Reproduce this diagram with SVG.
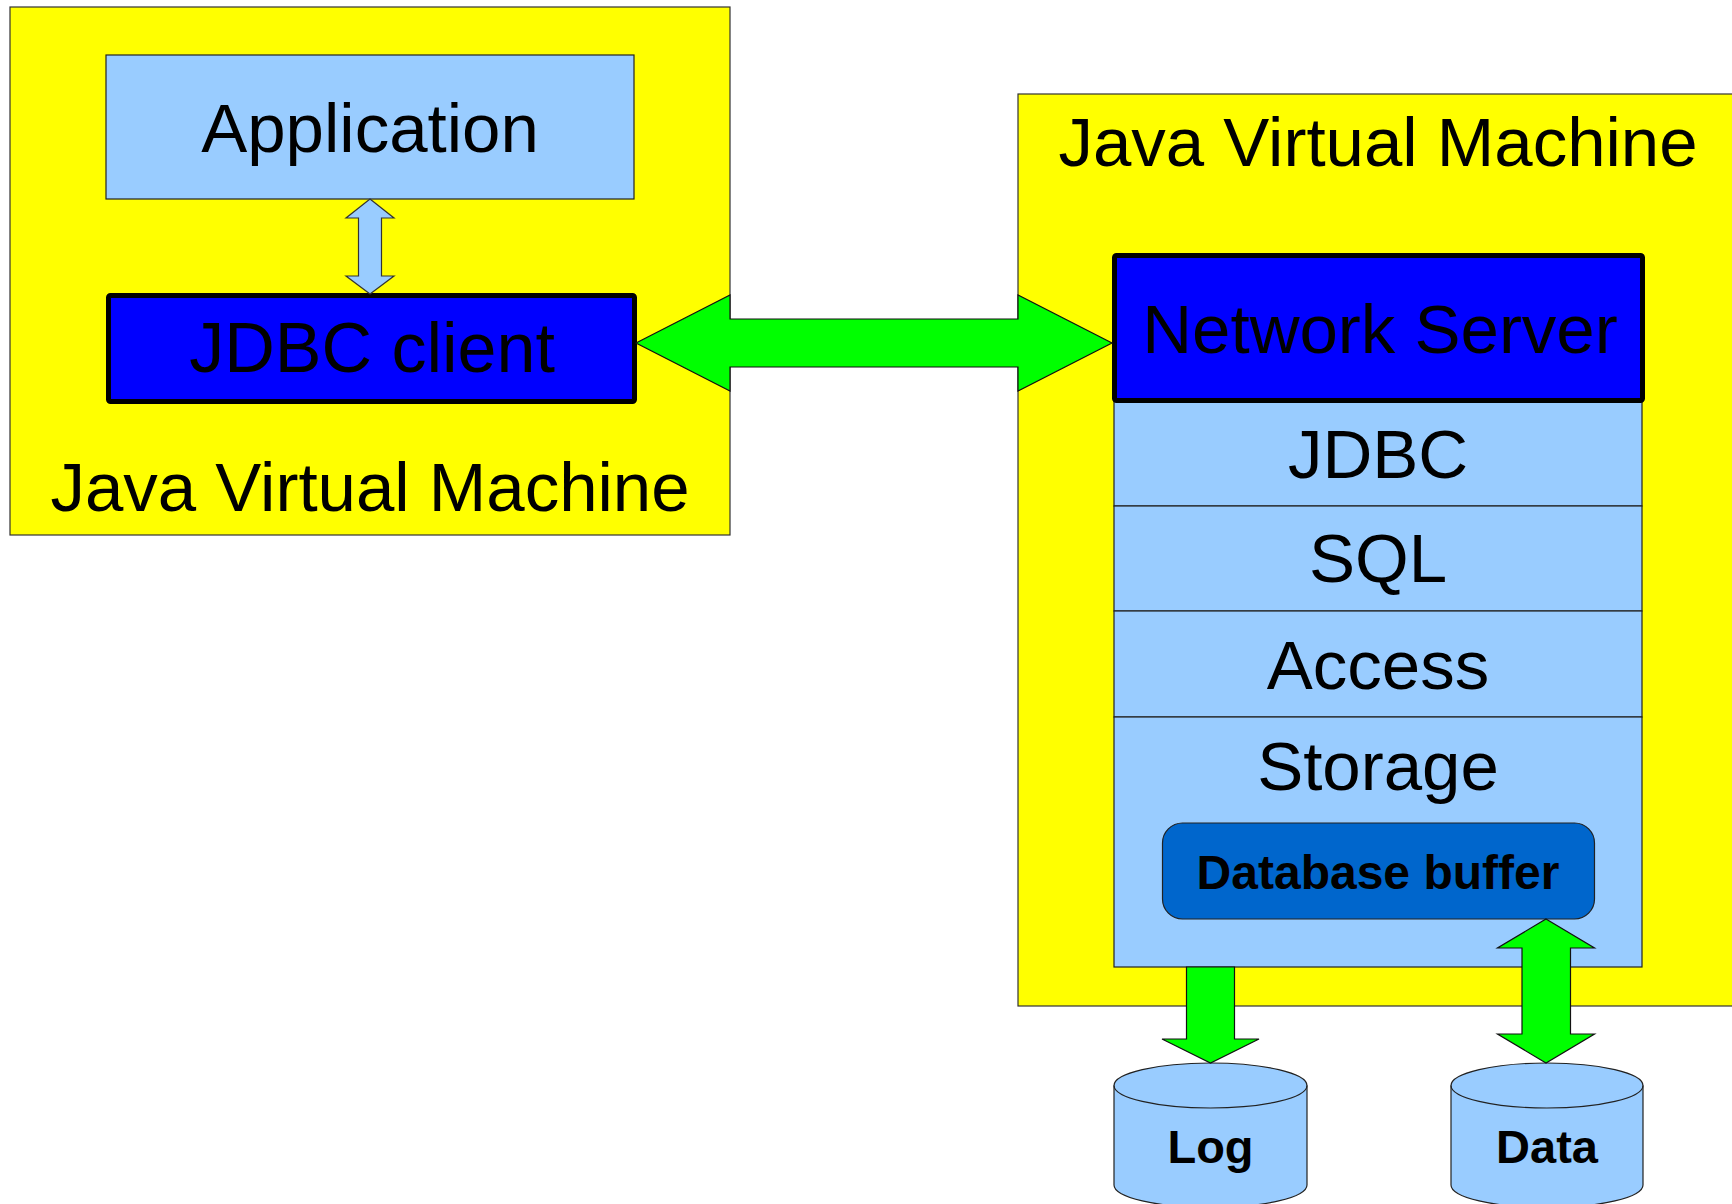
<svg xmlns="http://www.w3.org/2000/svg" width="1732" height="1204" viewBox="0 0 1732 1204">
<style>
.jvm{fill:#ffff00;stroke:#333;stroke-width:1.2}
.lb{fill:#99ccff;stroke:#222;stroke-width:1.2}
.blue{fill:#0000ff;stroke:#000;stroke-width:5;stroke-linejoin:round}
.buf{fill:#0066cc;stroke:#222;stroke-width:1.2}
.green{fill:#00ff00;stroke:#111;stroke-width:1.2;stroke-linejoin:miter}
.small{fill:#99ccff;stroke:#333;stroke-width:1.2}
.t{font-family:"Liberation Sans",Arial,sans-serif;font-size:69px;fill:#000;text-anchor:middle}
.tb{font-family:"Liberation Sans",Arial,sans-serif;font-size:47px;font-weight:bold;fill:#000;text-anchor:middle}
</style>
<rect width="1732" height="1204" fill="#fff"/>
<g id="jvm-client">
<rect class="jvm" x="10" y="7" width="720" height="528"/>
<text class="t" x="370" y="511">Java Virtual Machine</text>
</g>
<g id="jvm-server">
<rect class="jvm" x="1018" y="94" width="740" height="912"/>
<text class="t" x="1378" y="166">Java Virtual Machine</text>
</g>
<g id="application">
<rect class="lb" x="106" y="55" width="528" height="144"/>
<text class="t" x="370" y="152">Application</text>
</g>
<g id="jdbc-client">
<rect class="blue" x="108.5" y="295.5" width="526" height="106" rx="2"/>
<text class="t" x="372" y="372" style="font-size:70px">JDBC client</text>
</g>
<g id="layer-jdbc">
<rect class="lb" x="1114" y="400" width="528" height="106"/>
<text class="t" x="1378" y="478">JDBC</text>
</g>
<g id="layer-sql">
<rect class="lb" x="1114" y="506" width="528" height="105"/>
<text class="t" x="1378" y="582">SQL</text>
</g>
<g id="layer-access">
<rect class="lb" x="1114" y="611" width="528" height="106"/>
<text class="t" x="1378" y="689">Access</text>
</g>
<g id="layer-storage">
<rect class="lb" x="1114" y="717" width="528" height="250"/>
<text class="t" x="1378" y="790">Storage</text>
</g>
<g id="network-server">
<rect class="blue" x="1114.5" y="255.5" width="528" height="145" rx="2"/>
<text class="t" x="1380" y="353">Network Server</text>
</g>
<g id="database-buffer">
<rect class="buf" x="1162.5" y="823" width="432" height="96" rx="20"/>
<text class="tb" x="1378" y="889" style="font-size:48px">Database buffer</text>
</g>
<g id="log">
<path class="lb" d="M1114,1085.5 V1185 A96.5,22.5 0 0 0 1307,1185 V1085.5 A96.5,22.5 0 0 0 1114,1085.5 Z"/>
<path d="M1114,1085.5 A96.5,22.5 0 0 0 1307,1085.5" fill="none" stroke="#222" stroke-width="1.2"/>
<text class="tb" x="1210.5" y="1163">Log</text>
</g>
<g id="data">
<path class="lb" d="M1451,1085.5 V1185 A96,22.5 0 0 0 1643,1185 V1085.5 A96,22.5 0 0 0 1451,1085.5 Z"/>
<path d="M1451,1085.5 A96,22.5 0 0 0 1643,1085.5" fill="none" stroke="#222" stroke-width="1.2"/>
<text class="tb" x="1547" y="1163">Data</text>
</g>
<g id="connectors">
<polygon class="small" points="370,199 394,218 381.5,218 381.5,276 394,276 370,294 346,276 358.5,276 358.5,218 346,218"/>
<polygon class="green" points="636,343 730,295 730,319 1018,319 1018,295 1112,343 1018,391 1018,367 730,367 730,391"/>
<polygon class="green" points="1186.5,967 1234.5,967 1234.5,1039 1259,1039 1210.5,1063 1162,1039 1186.5,1039"/>
<polygon class="green" points="1546,919 1594.5,948 1570.5,948 1570.5,1034 1594.5,1034 1546,1063 1497.5,1034 1522,1034 1522,948 1497.5,948"/>
</g>
</svg>
